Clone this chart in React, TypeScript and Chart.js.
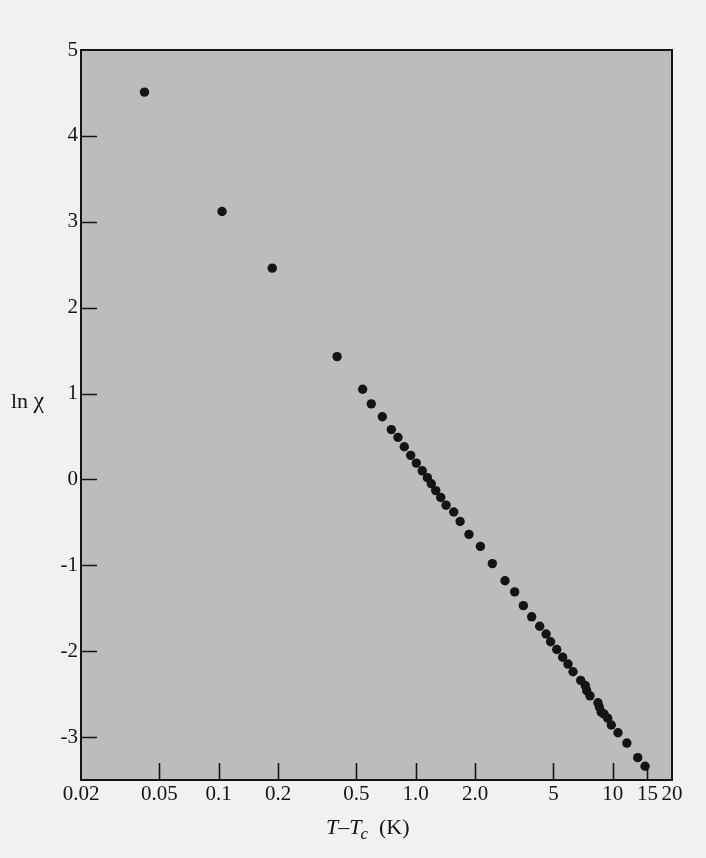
import React, { useEffect, useRef } from "react";
import { Chart, registerables } from "chart.js";

Chart.register(...registerables);

// T - Tc (K)
const tempDiff = [
  0.042, 0.104, 0.187, 0.399, 0.538, 0.595, 0.677, 0.752, 0.813, 0.875,
  0.943, 1.007, 1.08, 1.146, 1.2, 1.264, 1.34, 1.426, 1.56, 1.68,
  1.864, 2.13, 2.45, 2.84, 3.18, 3.52, 3.88, 4.26, 4.59, 4.84,
  5.2, 5.57, 5.93, 6.29, 6.88, 7.26, 7.38, 7.67, 8.42, 8.55,
  8.75, 9.03, 9.43, 9.84, 10.64, 11.8, 13.4, 14.6,
];
// ln chi
const lnChi = [
  4.51, 3.12, 2.46, 1.43, 1.05, 0.88, 0.73, 0.58, 0.49, 0.38,
  0.28, 0.19, 0.1, 0.02, -0.05, -0.13, -0.21, -0.3, -0.38, -0.49,
  -0.64, -0.78, -0.98, -1.18, -1.31, -1.47, -1.6, -1.71, -1.8, -1.89,
  -1.98, -2.07, -2.15, -2.24, -2.34, -2.4, -2.46, -2.52, -2.6, -2.65,
  -2.71, -2.73, -2.78, -2.86, -2.95, -3.07, -3.24, -3.34,
];

const xTickValues = [0.02, 0.05, 0.1, 0.2, 0.5, 1, 2, 5, 10, 15, 20];
const xTickLabels = ["0.02", "0.05", "0.1", "0.2", "0.5", "1.0", "2.0", "5", "10", "15", "20"];
const xInnerTicks = [0.05, 0.1, 0.2, 0.5, 1, 2, 5, 10, 15];
const yTickValues = [-3, -2, -1, 0, 1, 2, 3, 4, 5];
const yTickLabels = ["-3", "-2", "-1", "0", "1", "2", "3", "4", "5"];
const yInnerTicks = [-3, -2, -1, 0, 1, 2, 3, 4];

const SERIF = "'Liberation Serif', 'DejaVu Serif', serif";
const PAGE_BG = "#f1f1f1";
const PLOT_BG = "#bcbcbc";
const INK = "#141414";

const framePlugin = {
  id: "frame",
  beforeDraw(chart: any) {
    const { ctx, chartArea: a } = chart;
    ctx.save();
    ctx.fillStyle = PAGE_BG;
    ctx.fillRect(0, 0, chart.width, chart.height);
    ctx.fillStyle = PLOT_BG;
    ctx.fillRect(a.left, a.top, a.right - a.left, a.bottom - a.top);
    ctx.restore();
  },
  afterDraw(chart: any) {
    const { ctx, chartArea: a, scales } = chart;
    ctx.save();
    ctx.strokeStyle = INK;
    ctx.lineWidth = 2;
    ctx.strokeRect(a.left, a.top, a.right - a.left, a.bottom - a.top);
    ctx.lineWidth = 1.6;
    ctx.beginPath();
    for (const v of xInnerTicks) {
      const x = Math.round(scales.x.getPixelForValue(v)) + 0.5;
      ctx.moveTo(x, a.bottom);
      ctx.lineTo(x, a.bottom - 17);
    }
    for (const v of yInnerTicks) {
      const y = Math.round(scales.y.getPixelForValue(v)) + 0.5;
      ctx.moveTo(a.left, y);
      ctx.lineTo(a.left + 16, y);
    }
    ctx.stroke();

    // y label "ln χ" (horizontal)
    ctx.fillStyle = INK;
    ctx.textAlign = "left";
    ctx.textBaseline = "alphabetic";
    ctx.font = `22px ${SERIF}`;
    ctx.fillText("ln", 11, 408);
    const lnW = ctx.measureText("ln ").width;
    ctx.font = `24px ${SERIF}`;
    ctx.fillText("χ", 11 + lnW, 408);

    // x title "T−Tc (K)"
    let x = 326;
    const base = 834;
    ctx.font = `italic 22px ${SERIF}`;
    ctx.fillText("T", x, base);
    x += ctx.measureText("T").width;
    ctx.font = `22px ${SERIF}`;
    ctx.fillText("–", x, base);
    x += ctx.measureText("–").width;
    ctx.font = `italic 22px ${SERIF}`;
    ctx.fillText("T", x, base);
    x += ctx.measureText("T").width - 1;
    ctx.font = `italic 17px ${SERIF}`;
    ctx.fillText("c", x, base + 5);
    x += ctx.measureText("c").width + 11;
    ctx.font = `22px ${SERIF}`;
    ctx.fillText("(K)", x, base);
    ctx.restore();
  },
};

export default function App() {
  const ref = useRef<HTMLCanvasElement | null>(null);
  useEffect(() => {
    if (!ref.current) return;
    const points = tempDiff.map((t, i) => ({ x: t, y: lnChi[i] }));
    const chart = new Chart(ref.current, {
      type: "scatter",
      data: {
        datasets: [
          {
            data: points,
            backgroundColor: INK,
            borderColor: INK,
            pointRadius: 4.7,
            pointBorderWidth: 0,
          },
        ],
      },
      options: {
        animation: false,
        responsive: false,
        devicePixelRatio: 1,
        layout: { padding: { top: 50, right: 34, bottom: 0, left: 0 } },
        plugins: { legend: { display: false }, tooltip: { enabled: false }, title: { display: false } },
        scales: {
          x: {
            type: "logarithmic",
            min: 0.02,
            max: 20,
            afterBuildTicks: (s: any) => {
              s.ticks = xTickValues.map((v) => ({ value: v }));
            },
            afterFit: (s: any) => {
              s.height = 78;
            },
            ticks: {
              autoSkip: false,
              maxRotation: 0,
              minRotation: 0,
              padding: 2,
              color: INK,
              font: { family: SERIF, size: 21 },
              callback: (_v: any, i: number) => xTickLabels[i],
            },
            grid: { display: false, drawTicks: false },
            border: { display: false },
          },
          y: {
            type: "linear",
            min: -3.5,
            max: 5,
            afterBuildTicks: (s: any) => {
              s.ticks = yTickValues.map((v) => ({ value: v }));
            },
            afterFit: (s: any) => {
              s.width = 81;
            },
            ticks: {
              autoSkip: false,
              padding: 3,
              color: INK,
              font: { family: SERIF, size: 21 },
              callback: (_v: any, i: number) => yTickLabels[i],
            },
            grid: { display: false, drawTicks: false },
            border: { display: false },
          },
        },
      },
      plugins: [framePlugin],
    });
    return () => chart.destroy();
  }, []);

  return (
    <div style={{ position: "absolute", left: 0, top: 0, width: 706, height: 858, background: PAGE_BG }}>
      <canvas ref={ref} width={706} height={858} style={{ display: "block" }} />
    </div>
  );
}
